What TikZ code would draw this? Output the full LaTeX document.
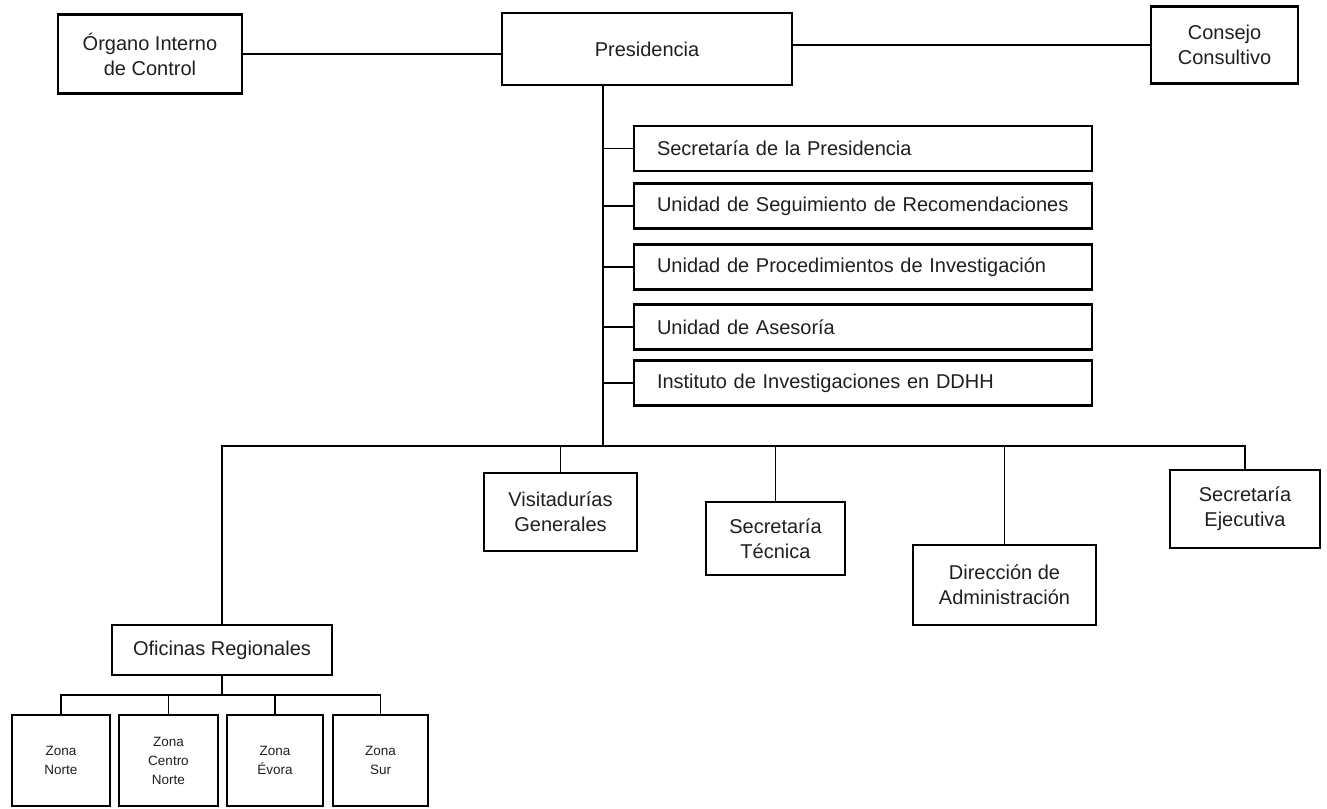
\documentclass[tikz,border=0pt]{standalone}
\usepackage{fontspec}
\setmainfont{Liberation Sans}
\begin{document}
\begin{tikzpicture}[x=1pt,y=-1pt,
  box/.style={draw=black, line width=2.8pt, inner sep=0pt, align=center,
    font=\fontsize{20}{25}\selectfont, text=black!88},
  listbox/.style={box, minimum width=458pt, minimum height=45pt,
    text width=412pt, align=left},
  zonebox/.style={box, minimum height=91pt, font=\fontsize{13.5}{19}\selectfont},
  link/.style={line width=1.9pt, line cap=rect}]
\useasboundingbox (0,0) rectangle (1327,808);

% top row
\node[box, minimum width=184pt, minimum height=79pt] (org) at (150,54) {Órgano Interno\\de Control};
\node[box, minimum width=290pt, minimum height=72pt] (pres) at (647,49) {Presidencia};
\node[box, minimum width=147pt, minimum height=77pt] (cons) at (1224.5,45) {Consejo\\Consultivo};

\draw[link] (org.east) -- (org.east -| pres.west);
\draw[link] (cons.west) -- (cons.west -| pres.east);

% list of units
\node[listbox] (s1) at (863,148.5) {Secretaría de la Presidencia};
\node[listbox] (s2) at (863,206) {Unidad de Seguimiento de Recomendaciones};
\node[listbox] (s3) at (863,267) {Unidad de Procedimientos de Investigación};
\node[listbox] (s4) at (863,327) {Unidad de Asesoría};
\node[listbox] (s5) at (863,383) {Instituto de Investigaciones en DDHH};

\coordinate (trunk) at (603,446);
\draw[link] (pres.south -| trunk) -- (trunk);
\foreach \n in {s1,s2,s3,s4,s5}{
  \draw[link] (\n.west -| trunk) -- (\n.west);
}

% second level
\node[box, minimum width=153pt, minimum height=78pt] (vis) at (560.5,512) {Visitadurías\\Generales};
\node[box, minimum width=139pt, minimum height=73pt] (tec) at (775.5,538.5) {Secretaría\\Técnica};
\node[box, minimum width=183pt, minimum height=80pt] (dir) at (1004.5,585) {Dirección de\\Administración};
\node[box, minimum width=150pt, minimum height=78pt] (eje) at (1245,509) {Secretaría\\Ejecutiva};
\node[box, minimum width=220pt, minimum height=50pt] (ofi) at (222,650) {Oficinas Regionales};

\coordinate (busL) at (222,446);
\coordinate (busR) at (1245,446);
\draw[link] (ofi.north) -- (busL) -- (busR) -- (eje.north);
\foreach \n in {vis,tec,dir}{
  \draw[link] (\n.north) -- (\n.north |- trunk);
}

% zones
\node[zonebox, minimum width=98pt] (z1) at (61,760.5) {Zona\\Norte};
\node[zonebox, minimum width=99pt] (z2) at (168.5,760.5) {Zona\\Centro\\Norte};
\node[zonebox, minimum width=96pt] (z3) at (275,760.5) {Zona\\Évora};
\node[zonebox, minimum width=95pt] (z4) at (380.5,760.5) {Zona\\Sur};

\coordinate (zbus) at (222,695);
\draw[link] (ofi.south) -- (zbus);
\draw[link] (z1.north |- zbus) -- (z4.north |- zbus);
\foreach \n in {z1,z2,z3,z4}{
  \draw[link] (\n.north) -- (\n.north |- zbus);
}
\end{tikzpicture}
\end{document}
